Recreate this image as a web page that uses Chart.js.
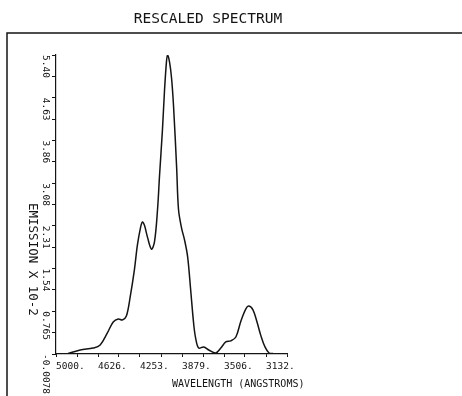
<!DOCTYPE html>
<html>
<head>
<meta charset="utf-8">
<script src="https://cdn.jsdelivr.net/npm/chart.js@4"></script>
<style>
  html, body { margin: 0; padding: 0; background: #fff; }
  #c { display: block; }
</style>
</head>
<body>
<canvas id="c" width="462" height="396"></canvas>
<script>
// Rescaled emission spectrum, wavelength in angstroms (decreasing to the right)
const wavelengths = [4893, 4785, 4669, 4607, 4544, 4491, 4446, 4410, 4374, 4339, 4303, 4276, 4249, 4231, 4213, 4187, 4151, 4124, 4097, 4079, 4053, 4035, 4017, 4008, 3990, 3972, 3954, 3927, 3910, 3883, 3856, 3829, 3802, 3776, 3758, 3731, 3686, 3641, 3579, 3534, 3490, 3445, 3400, 3355, 3311, 3284, 3248, 3212, 3177, 3141, 3105, 3069];
const emission = [0.00, 0.065, 0.10, 0.155, 0.37, 0.57, 0.625, 0.607, 0.68, 1.04, 1.51, 1.96, 2.27, 2.38, 2.32, 2.11, 1.89, 2.02, 2.60, 3.22, 4.05, 4.75, 5.29, 5.40, 5.27, 4.98, 4.46, 3.37, 2.60, 2.27, 2.05, 1.75, 1.15, 0.55, 0.28, 0.10, 0.12, 0.065, 0.01, 0.10, 0.21, 0.23, 0.30, 0.59, 0.81, 0.86, 0.79, 0.57, 0.32, 0.12, 0.01, 0.00];

// Axis ticks and their printed labels
const xMajorTicks = [5000, 4626.4, 4252.8, 3879.2, 3505.6, 3132];
const xTickLabels = ['5000.', '4626.', '4253.', '3879.', '3506.', '3132.'];
const yMajorTicks = [-0.0078, 0.765, 1.5373, 2.3098, 3.0824, 3.8549, 4.6275, 5.40];
const yTickLabels = ['-0.0078', '0.765', '1.54', '2.31', '3.08', '3.86', '4.63', '5.40'];

const titleText = 'RESCALED SPECTRUM';
const xTitleText = 'WAVELENGTH (ANGSTROMS)';
const yTitleText = 'EMISSION X 10-2';

const INK = '#141414';
const MONO = '"DejaVu Sans Mono", "Liberation Mono", monospace';

// major ticks plus a minor tick half-way between (and past the last major on x)
function withMinors(majors, extraEnd) {
  const out = [];
  for (let i = 0; i < majors.length; i++) {
    out.push({ value: majors[i], major: true });
    if (i < majors.length - 1) out.push({ value: (majors[i] + majors[i + 1]) / 2 });
  }
  if (extraEnd) {
    const step = majors[majors.length - 1] - majors[majors.length - 2];
    out.push({ value: majors[majors.length - 1] + step / 2 });
  }
  return out;
}
const xAllTicks = withMinors(xMajorTicks, true);
const yAllTicks = withMinors(yMajorTicks, false);
const xMin = xAllTicks[xAllTicks.length - 1].value;

const decorations = {
  id: 'decorations',
  afterDraw(chart) {
    const ctx = chart.ctx;
    const ys = chart.scales.y;
    ctx.save();
    ctx.fillStyle = INK;
    ctx.strokeStyle = INK;

    // page frame
    ctx.lineWidth = 1.5;
    ctx.beginPath();
    ctx.moveTo(462, 33);
    ctx.lineTo(7, 33);
    ctx.lineTo(7, 396);
    ctx.stroke();

    // title
    ctx.font = '14.5px ' + MONO;
    ctx.textAlign = 'center';
    ctx.textBaseline = 'alphabetic';
    ctx.fillText(titleText, 208, 23);

    // y tick labels, written downward from each tick
    ctx.font = '9.5px ' + MONO;
    yMajorTicks.forEach((v, i) => {
      const py = ys.getPixelForValue(v);
      ctx.save();
      ctx.translate(50, py);
      ctx.rotate(Math.PI / 2);
      ctx.textAlign = 'left';
      ctx.textBaseline = 'top';
      ctx.fillText(yTickLabels[i], 0, 0);
      ctx.restore();
    });

    // y axis title
    ctx.save();
    ctx.font = '12.5px ' + MONO;
    ctx.translate(38, 203);
    ctx.rotate(Math.PI / 2);
    ctx.textAlign = 'left';
    ctx.textBaseline = 'top';
    ctx.fillText(yTitleText, 0, 0);
    ctx.restore();

    // x axis title
    ctx.font = '10px ' + MONO;
    ctx.textAlign = 'left';
    ctx.textBaseline = 'alphabetic';
    ctx.fillText(xTitleText, 172, 387);

    ctx.restore();
  }
};

new Chart(document.getElementById('c'), {
  type: 'line',
  data: {
    datasets: [{
      data: wavelengths.map((w, i) => ({ x: w, y: emission[i] })),
      borderColor: INK,
      borderWidth: 1.5,
      pointRadius: 0,
      fill: false,
      tension: 0.35
    }]
  },
  options: {
    responsive: false,
    animation: false,
    devicePixelRatio: 1,
    layout: { padding: { left: 44, right: 175, top: 55, bottom: 12 } },
    plugins: { legend: { display: false }, tooltip: { enabled: false }, title: { display: false } },
    scales: {
      x: {
        type: 'linear',
        reverse: true,
        min: xMin,
        max: 5000,
        afterBuildTicks: s => { s.ticks = xAllTicks.map(t => ({ value: t.value })); },
        afterFit: s => { s.height = 30; },
        border: { display: true, color: INK, width: 1.2 },
        grid: { display: true, drawOnChartArea: false, drawTicks: true, tickLength: 3, color: INK, lineWidth: 1 },
        ticks: {
          autoSkip: false,
          maxRotation: 0,
          minRotation: 0,
          align: 'start',
          padding: 4,
          color: INK,
          font: { family: MONO, size: 9.5 },
          callback: (v, i) => {
            const k = xMajorTicks.indexOf(xAllTicks[i].value);
            return k >= 0 ? xTickLabels[k] : '';
          }
        }
      },
      y: {
        type: 'linear',
        min: yMajorTicks[0],
        max: yMajorTicks[yMajorTicks.length - 1],
        afterBuildTicks: s => { s.ticks = yAllTicks.map(t => ({ value: t.value })); },
        afterFit: s => { s.width = 12; },
        border: { display: true, color: INK, width: 1.2 },
        grid: { display: true, drawOnChartArea: false, drawTicks: true, tickLength: 4, color: INK, lineWidth: 1 },
        ticks: { display: false, autoSkip: false }
      }
    }
  },
  plugins: [decorations]
});
</script>
</body>
</html>
